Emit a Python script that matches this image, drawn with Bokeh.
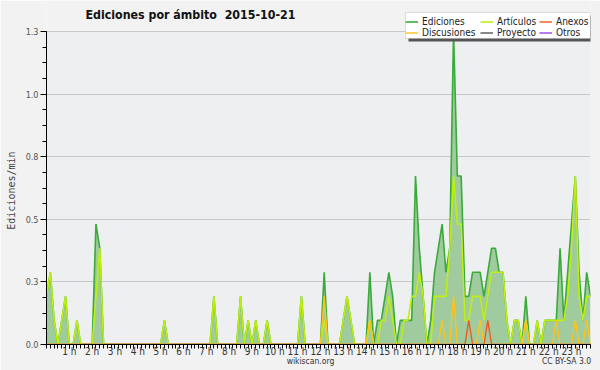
from bokeh.plotting import figure
from bokeh.models import (ColumnDataSource, FixedTicker, Legend, LegendItem, Label,
                          Range1d, LinearAxis, BoxAnnotation)
from bokeh.embed import file_html
from bokeh.resources import INLINE

# ---- data: 10-minute bins, edits per minute (one row per hour) ----
ediciones = [
    0.2, 0.3, 0.1, 0.0, 0.1, 0.2,   # 0 h
    0.0, 0.0, 0.1, 0.0, 0.0, 0.0,   # 1 h
    0.0, 0.5, 0.4, 0.0, 0.0, 0.0,   # 2 h
    0.0, 0.0, 0.0, 0.0, 0.0, 0.0,   # 3 h
    0.0, 0.0, 0.0, 0.0, 0.0, 0.0,   # 4 h
    0.0, 0.1, 0.0, 0.0, 0.0, 0.0,   # 5 h
    0.0, 0.0, 0.0, 0.0, 0.0, 0.0,   # 6 h
    0.0, 0.0, 0.2, 0.0, 0.0, 0.0,   # 7 h
    0.0, 0.0, 0.0, 0.2, 0.0, 0.1,   # 8 h
    0.0, 0.1, 0.0, 0.0, 0.1, 0.0,   # 9 h
    0.0, 0.0, 0.0, 0.0, 0.0, 0.0,   # 10 h
    0.0, 0.2, 0.0, 0.0, 0.0, 0.0,   # 11 h
    0.0, 0.3, 0.0, 0.0, 0.0, 0.0,   # 12 h
    0.1, 0.2, 0.1, 0.0, 0.0, 0.0,   # 13 h
    0.0, 0.3, 0.0, 0.1, 0.1, 0.2,   # 14 h
    0.3, 0.2, 0.0, 0.1, 0.1, 0.1,   # 15 h
    0.1, 0.7, 0.4, 0.2, 0.0, 0.1,   # 16 h
    0.3, 0.4, 0.5, 0.3, 0.4, 1.3,   # 17 h
    0.7, 0.7, 0.2, 0.2, 0.3, 0.3,   # 18 h
    0.3, 0.2, 0.3, 0.4, 0.4, 0.3,   # 19 h
    0.3, 0.1, 0.0, 0.1, 0.1, 0.0,   # 20 h
    0.2, 0.0, 0.0, 0.1, 0.0, 0.1,   # 21 h
    0.1, 0.1, 0.1, 0.4, 0.1, 0.3,   # 22 h
    0.5, 0.7, 0.3, 0.1, 0.3, 0.2,   # 23 h
]
articulos = [
    0.2, 0.3, 0.1, 0.0, 0.1, 0.2,
    0.0, 0.0, 0.1, 0.0, 0.0, 0.0,
    0.0, 0.2, 0.4, 0.0, 0.0, 0.0,
    0.0, 0.0, 0.0, 0.0, 0.0, 0.0,
    0.0, 0.0, 0.0, 0.0, 0.0, 0.0,
    0.0, 0.1, 0.0, 0.0, 0.0, 0.0,
    0.0, 0.0, 0.0, 0.0, 0.0, 0.0,
    0.0, 0.0, 0.2, 0.0, 0.0, 0.0,
    0.0, 0.0, 0.0, 0.2, 0.0, 0.1,
    0.0, 0.1, 0.0, 0.0, 0.1, 0.0,
    0.0, 0.0, 0.0, 0.0, 0.0, 0.0,
    0.0, 0.2, 0.0, 0.0, 0.0, 0.0,
    0.0, 0.1, 0.0, 0.0, 0.0, 0.0,
    0.1, 0.2, 0.1, 0.0, 0.0, 0.0,
    0.0, 0.1, 0.0, 0.0, 0.1, 0.1,
    0.2, 0.1, 0.0, 0.0, 0.1, 0.1,
    0.2, 0.2, 0.3, 0.2, 0.0, 0.0,
    0.2, 0.2, 0.2, 0.2, 0.4, 0.7,
    0.5, 0.5, 0.1, 0.1, 0.2, 0.2,
    0.2, 0.1, 0.2, 0.3, 0.3, 0.3,
    0.3, 0.1, 0.0, 0.1, 0.1, 0.0,
    0.1, 0.0, 0.0, 0.1, 0.0, 0.1,
    0.1, 0.1, 0.1, 0.1, 0.1, 0.2,
    0.4, 0.7, 0.2, 0.1, 0.2, 0.2,
]
discusiones = [
    0.0, 0.0, 0.0, 0.0, 0.0, 0.0,
    0.0, 0.0, 0.0, 0.0, 0.0, 0.0,
    0.0, 0.0, 0.0, 0.0, 0.0, 0.0,
    0.0, 0.0, 0.0, 0.0, 0.0, 0.0,
    0.0, 0.0, 0.0, 0.0, 0.0, 0.0,
    0.0, 0.0, 0.0, 0.0, 0.0, 0.0,
    0.0, 0.0, 0.0, 0.0, 0.0, 0.0,
    0.0, 0.0, 0.0, 0.0, 0.0, 0.0,
    0.0, 0.0, 0.0, 0.0, 0.0, 0.0,
    0.0, 0.0, 0.0, 0.0, 0.0, 0.0,
    0.0, 0.0, 0.0, 0.0, 0.0, 0.0,
    0.0, 0.0, 0.0, 0.0, 0.0, 0.0,
    0.0, 0.2, 0.0, 0.0, 0.0, 0.0,
    0.0, 0.0, 0.0, 0.0, 0.0, 0.0,
    0.0, 0.1, 0.0, 0.0, 0.0, 0.0,
    0.0, 0.0, 0.0, 0.0, 0.0, 0.0,
    0.0, 0.0, 0.0, 0.0, 0.0, 0.0,
    0.0, 0.0, 0.1, 0.0, 0.0, 0.2,
    0.0, 0.0, 0.0, 0.0, 0.0, 0.0,
    0.1, 0.0, 0.0, 0.0, 0.0, 0.0,
    0.0, 0.0, 0.0, 0.0, 0.0, 0.0,
    0.1, 0.0, 0.0, 0.0, 0.0, 0.0,
    0.0, 0.0, 0.1, 0.0, 0.0, 0.0,
    0.0, 0.1, 0.0, 0.0, 0.1, 0.0,
]
anexos = [
    0.0, 0.0, 0.0, 0.0, 0.0, 0.0,
    0.0, 0.0, 0.0, 0.0, 0.0, 0.0,
    0.0, 0.0, 0.0, 0.0, 0.0, 0.0,
    0.0, 0.0, 0.0, 0.0, 0.0, 0.0,
    0.0, 0.0, 0.0, 0.0, 0.0, 0.0,
    0.0, 0.0, 0.0, 0.0, 0.0, 0.0,
    0.0, 0.0, 0.0, 0.0, 0.0, 0.0,
    0.0, 0.0, 0.0, 0.0, 0.0, 0.0,
    0.0, 0.0, 0.0, 0.0, 0.0, 0.0,
    0.0, 0.0, 0.0, 0.0, 0.0, 0.0,
    0.0, 0.0, 0.0, 0.0, 0.0, 0.0,
    0.0, 0.0, 0.0, 0.0, 0.0, 0.0,
    0.0, 0.0, 0.0, 0.0, 0.0, 0.0,
    0.0, 0.0, 0.0, 0.0, 0.0, 0.0,
    0.0, 0.0, 0.0, 0.0, 0.0, 0.0,
    0.0, 0.0, 0.0, 0.0, 0.0, 0.0,
    0.0, 0.0, 0.0, 0.0, 0.0, 0.0,
    0.0, 0.0, 0.0, 0.0, 0.0, 0.0,
    0.0, 0.0, 0.0, 0.1, 0.0, 0.0,
    0.0, 0.0, 0.1, 0.0, 0.0, 0.0,
    0.0, 0.0, 0.0, 0.0, 0.0, 0.0,
    0.0, 0.0, 0.0, 0.0, 0.0, 0.0,
    0.0, 0.0, 0.0, 0.0, 0.0, 0.0,
    0.0, 0.0, 0.0, 0.0, 0.0, 0.0,
]
proyecto = [
    0.0, 0.0, 0.0, 0.0, 0.0, 0.0,
    0.0, 0.0, 0.0, 0.0, 0.0, 0.0,
    0.0, 0.0, 0.0, 0.0, 0.0, 0.0,
    0.0, 0.0, 0.0, 0.0, 0.0, 0.0,
    0.0, 0.0, 0.0, 0.0, 0.0, 0.0,
    0.0, 0.0, 0.0, 0.0, 0.0, 0.0,
    0.0, 0.0, 0.0, 0.0, 0.0, 0.0,
    0.0, 0.0, 0.0, 0.0, 0.0, 0.0,
    0.0, 0.0, 0.0, 0.0, 0.0, 0.0,
    0.0, 0.0, 0.0, 0.0, 0.0, 0.0,
    0.0, 0.0, 0.0, 0.0, 0.0, 0.0,
    0.0, 0.0, 0.0, 0.0, 0.0, 0.0,
    0.0, 0.0, 0.0, 0.0, 0.0, 0.0,
    0.0, 0.0, 0.0, 0.0, 0.0, 0.0,
    0.0, 0.0, 0.0, 0.0, 0.0, 0.0,
    0.0, 0.0, 0.0, 0.0, 0.0, 0.0,
    0.0, 0.0, 0.0, 0.0, 0.0, 0.0,
    0.0, 0.0, 0.0, 0.0, 0.0, 0.0,
    0.0, 0.0, 0.0, 0.0, 0.0, 0.0,
    0.0, 0.0, 0.0, 0.0, 0.0, 0.0,
    0.0, 0.0, 0.0, 0.0, 0.0, 0.0,
    0.0, 0.0, 0.0, 0.0, 0.0, 0.0,
    0.0, 0.0, 0.0, 0.0, 0.0, 0.0,
    0.0, 0.0, 0.0, 0.0, 0.0, 0.0,
]
otros = [
    0.0, 0.0, 0.0, 0.0, 0.0, 0.0,
    0.0, 0.0, 0.0, 0.0, 0.0, 0.0,
    0.0, 0.0, 0.0, 0.0, 0.0, 0.0,
    0.0, 0.0, 0.0, 0.0, 0.0, 0.0,
    0.0, 0.0, 0.0, 0.0, 0.0, 0.0,
    0.0, 0.0, 0.0, 0.0, 0.0, 0.0,
    0.0, 0.0, 0.0, 0.0, 0.0, 0.0,
    0.0, 0.0, 0.0, 0.0, 0.0, 0.0,
    0.0, 0.0, 0.0, 0.0, 0.0, 0.0,
    0.0, 0.0, 0.0, 0.0, 0.0, 0.0,
    0.0, 0.0, 0.0, 0.0, 0.0, 0.0,
    0.0, 0.0, 0.0, 0.0, 0.0, 0.0,
    0.0, 0.0, 0.0, 0.0, 0.0, 0.0,
    0.0, 0.0, 0.0, 0.0, 0.0, 0.0,
    0.0, 0.0, 0.0, 0.0, 0.0, 0.0,
    0.0, 0.0, 0.0, 0.0, 0.0, 0.0,
    0.0, 0.0, 0.0, 0.0, 0.0, 0.0,
    0.0, 0.0, 0.0, 0.0, 0.0, 0.0,
    0.0, 0.0, 0.0, 0.0, 0.0, 0.0,
    0.0, 0.0, 0.0, 0.0, 0.0, 0.0,
    0.0, 0.0, 0.0, 0.0, 0.0, 0.0,
    0.0, 0.0, 0.0, 0.0, 0.0, 0.0,
    0.0, 0.0, 0.0, 0.0, 0.0, 0.0,
    0.0, 0.0, 0.0, 0.0, 0.0, 0.0,
]

minutes = [10 * i for i in range(len(ediciones))]
hours = list(range(1, 24))
hour_labels = ["%d h" % h for h in hours]
y_ticks = [0.0, 0.26, 0.52, 0.78, 1.04, 1.3]
y_tick_labels = ["0.0", "0.3", "0.5", "0.8", "1.0", "1.3"]
title_text = "Ediciones por ámbito\u00a0\u00a02015-10-21"
footer_labels = ["wikiscan.org", "CC BY-SA 3.0"]
y_title = "Ediciones/min"

# ---- layout (pixels) ----
W, H = 600, 370
LEFT, RIGHT, BOTTOM = 46, 10, 26
PLOT_TOP = 31                      # pixel row of the top tick (1.3)
frame_h = H - BOTTOM               # frame reaches the top of the canvas
y_top = y_ticks[-1] * frame_h / (frame_h - PLOT_TOP)
x_end = minutes[-1]
frame_w = W - LEFT - RIGHT
px2x = x_end / frame_w

src = ColumnDataSource(dict(x=minutes, ed=ediciones, ar=articulos,
                            di=discusiones, an=anexos, pr=proyecto, ot=otros,
                            base=[0.0] * len(ediciones)))

p = figure(width=W, height=H, output_backend="svg", toolbar_location=None,
           title=None,
           x_range=Range1d(0, x_end), y_range=Range1d(0, y_top),
           min_border_left=LEFT, min_border_right=RIGHT, min_border_top=0,
           min_border_bottom=BOTTOM)
p.background_fill_color = "#f2f2f2"
p.border_fill_color = "#f2f2f2"
p.outline_line_color = None

# plot area background (only up to the top tick)
p.add_layout(BoxAnnotation(bottom=0, top=y_ticks[-1], fill_color="#eeeff1",
                           fill_alpha=1.0, line_color=None, level="image"))

# grid
p.xgrid.grid_line_color = None
p.ygrid.grid_line_color = "#c8c8c8"
p.ygrid.ticker = FixedTicker(ticks=y_ticks)

# y axis
p.yaxis.bounds = (0, y_ticks[-1])
p.yaxis.ticker = FixedTicker(ticks=y_ticks,
                             minor_ticks=[round(0.065 * k, 3) for k in range(21)])
p.yaxis.major_label_overrides = dict(zip(y_ticks, y_tick_labels))
p.yaxis.major_label_text_font = "DejaVu Sans Condensed"
p.yaxis.major_label_text_font_size = "9px"
p.yaxis.major_label_text_color = "#555555"
p.yaxis.major_label_standoff = 2
p.yaxis.major_tick_in = 0
p.yaxis.major_tick_out = 6
p.yaxis.minor_tick_in = 0
p.yaxis.minor_tick_out = 4
p.yaxis.axis_line_color = "black"
# trailing no-break spaces centre the title on the plotted span, not the tall frame
p.yaxis.axis_label = y_title + "\u00a0" * 6
p.yaxis.axis_label_text_font = "DejaVu Sans Mono"
p.yaxis.axis_label_text_font_size = "10px"
p.yaxis.axis_label_text_font_style = "normal"
p.yaxis.axis_label_standoff = 6

# x axis (hours)
hour_pos = [60 * h for h in hours]
p.xaxis.ticker = FixedTicker(ticks=hour_pos,
                             minor_ticks=[10 * k for k in range(144)])
p.xaxis.major_label_overrides = dict(zip(hour_pos, hour_labels))
p.xaxis.major_label_text_font = "DejaVu Sans Condensed"
p.xaxis.major_label_text_font_size = "10px"
p.xaxis.major_label_text_color = "#333333"
p.xaxis.major_tick_in = 0
p.xaxis.major_tick_out = 4
p.xaxis.minor_tick_in = 0
p.xaxis.minor_tick_out = 4
p.xaxis.major_label_standoff = -3

# footer texts as a second, line-less bottom axis
foot_pos = [(310 - LEFT) * px2x, (566 - LEFT) * px2x]
foot = LinearAxis(ticker=FixedTicker(ticks=foot_pos),
                  major_label_overrides=dict(zip(foot_pos, footer_labels)),
                  axis_line_color=None, major_tick_line_color=None,
                  minor_tick_line_color=None, major_tick_out=0, major_tick_in=0,
                  minor_tick_out=0, minor_tick_in=0, major_label_standoff=-4,
                  major_label_text_font="DejaVu Sans Condensed",
                  major_label_text_font_size="8.5px",
                  major_label_text_color="#333333")
p.add_layout(foot, "below")

# empty series first (hidden under the area), then area + visible lines
r_pr = p.line("x", "pr", source=src, line_color="#555555", line_width=1.4)
r_ot = p.line("x", "ot", source=src, line_color="#9944ee", line_width=1.4)
p.varea(x="x", y1="base", y2="ed", source=src, fill_color="#9fcb9f", fill_alpha=1.0)
r_ed = p.line("x", "ed", source=src, line_color="#3aaa3a", line_width=1.6)
r_ar = p.line("x", "ar", source=src, line_color="#bfee10", line_width=1.6)
r_di = p.line("x", "di", source=src, line_color="#ffc21a", line_width=1.4)
r_an = p.line("x", "an", source=src, line_color="#ee5a1e", line_width=1.4)

# title inside the (tall) frame
p.add_layout(Label(x=85 - LEFT, y=frame_h - 14, x_units="screen", y_units="screen",
                   text=title_text, text_font="DejaVu Sans Condensed",
                   text_font_size="12.3px", text_font_style="bold",
                   text_color="#111111", text_baseline="middle"))

# ---- legend: shadow + box, then three two-row columns ----
LEG_L, LEG_R, LEG_T, LEG_B = 405, 590, 12, 38      # page pixels of the legend box
def sx(px):
    return px - LEFT
def sy(py):
    return frame_h - py

p.add_layout(BoxAnnotation(left=sx(LEG_L + 3), right=sx(LEG_R + 3),
                           top=sy(LEG_T + 3), bottom=sy(LEG_B + 3),
                           left_units="screen", right_units="screen",
                           top_units="screen", bottom_units="screen",
                           fill_color="#555555", fill_alpha=1.0, line_color=None))
p.add_layout(BoxAnnotation(left=sx(LEG_L), right=sx(LEG_R),
                           top=sy(LEG_T), bottom=sy(LEG_B),
                           left_units="screen", right_units="screen",
                           top_units="screen", bottom_units="screen",
                           fill_color="white", fill_alpha=1.0,
                           line_color="#999999", line_width=1))

columns = [
    (LEG_L, [("Ediciones", r_ed), ("Discusiones", r_di)]),
    (480, [("Artículos", r_ar), ("Proyecto", r_pr)]),
    (539, [("Anexos", r_an), ("Otros", r_ot)]),
]
for col_x, entries in columns:
    p.add_layout(Legend(items=[LegendItem(label=t, renderers=[r]) for t, r in entries],
                        location=(sx(col_x), sy(LEG_B)), orientation="vertical",
                        label_text_font="DejaVu Sans Condensed",
                        label_text_font_size="10px", label_text_color="#222222",
                        glyph_width=13, glyph_height=11, label_standoff=4,
                        label_height=11, spacing=0, padding=2, margin=0,
                        border_line_color=None, background_fill_alpha=0.0),
                 "center")

open("out.html", "w").write(file_html(p, INLINE))
